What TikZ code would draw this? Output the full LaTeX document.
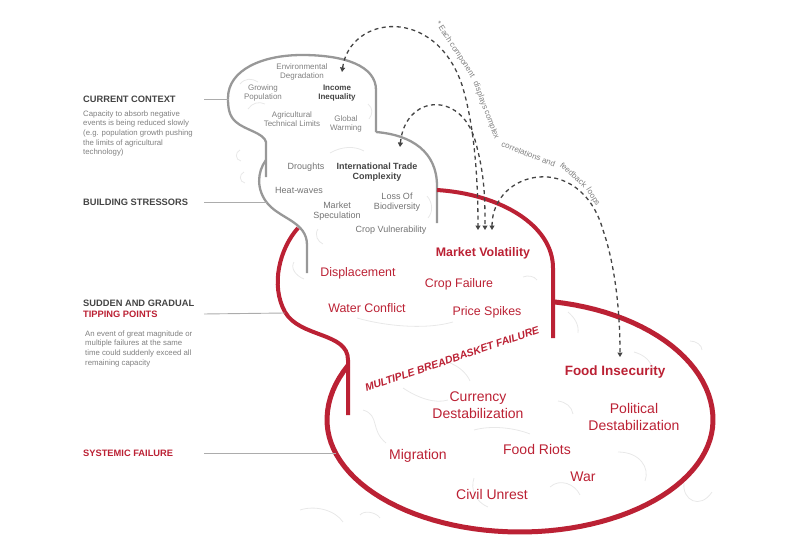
\documentclass[tikz,border=0pt]{standalone}
\usepackage{fontspec}
\setmainfont{Liberation Sans}
\usetikzlibrary{arrows.meta, positioning}

\definecolor{rim}{RGB}{152,152,152}
\definecolor{crimson}{RGB}{187,33,52}
\definecolor{ink}{RGB}{68,68,68}
\definecolor{soft}{RGB}{128,128,128}
\definecolor{faint}{RGB}{232,232,232}
\definecolor{guideline}{RGB}{172,172,172}

\begin{document}
\begin{tikzpicture}[x=1pt, y=-1pt,
          head/.style={font=\fontsize{9.3}{11}\selectfont\bfseries, text=ink, inner sep=0pt, anchor=west},
          desc/.style={font=\fontsize{7.8}{9.6}\selectfont, text=soft, align=left, inner sep=0pt},
          guide/.style={draw=guideline, line width=0.9pt},
          tiny/.style={font=\fontsize{8}{9.2}\selectfont, text=soft, align=center, inner sep=0pt},
          small/.style={font=\fontsize{9}{10.5}\selectfont, text=soft!90!black, align=center, inner sep=0pt},
          redlbl/.style={font=\fontsize{12.4}{14}\selectfont, text=crimson, align=center, inner sep=0pt},
          biglbl/.style={font=\fontsize{14}{16.5}\selectfont, text=crimson, align=center, inner sep=0pt},
          note/.style={font=\fontsize{8}{9}\selectfont, text=soft, inner sep=0pt},
          greyrim/.style={draw=rim, line width=2.3pt},
          redrim/.style={draw=crimson, line width=4pt},
          faintline/.style={draw=faint, line width=0.8pt},
          fb/.style={draw=ink, line width=1.3pt, dash pattern=on 4pt off 3.5pt,
                     {Triangle[length=4.5pt,width=5pt]}-{Triangle[length=4.5pt,width=5pt]}}]
          \useasboundingbox (0,0) rectangle (800,557);

          % background scribbles
          \path[faintline]
              (240,84) .. controls (245,78) and (252,78) .. (258,82)
              (248,109) .. controls (252,103) and (259,101) .. (265,104)
              (368,104) .. controls (373,108) and (373,114) .. (369,119)
              (330,153) .. controls (342,146) and (355,146) .. (364,151)
              (240,150) .. controls (235,152) and (235,160) .. (241,161)
              (244,172) .. controls (239,174) and (239,182) .. (245,183)
              (318,229) .. controls (314,235) and (318,242) .. (323,244)
              (427,196) .. controls (433,203) and (433,212) .. (428,218)
              (294,262) .. controls (290,268) and (296,276) .. (304,279)
              (357,318) .. controls (385,326) and (425,330) .. (453,322)
              (403,388) .. controls (418,398) and (435,404) .. (448,400)
              (448,362) .. controls (458,366) and (466,372) .. (470,381)
              (363,410) .. controls (380,415) and (370,430) .. (386,443)
              (474,430) .. controls (492,425) and (515,428) .. (530,434)
              (558,401) .. controls (566,402) and (572,407) .. (573,414)
              (618,452) .. controls (640,452) and (650,468) .. (645,481)
              (550,487) .. controls (560,478) and (575,484) .. (580,495)
              (474,478) .. controls (470,490) and (476,502) .. (488,507)
              (684,483) .. controls (682,500) and (700,510) .. (712,492)
              (300,510) .. controls (315,505) and (335,510) .. (343,522)
              (360,515) .. controls (364,510) and (376,512) .. (380,518)
              (568,312) .. controls (575,318) and (579,325) .. (578,333)
              (634,352) .. controls (645,355) and (652,362) .. (653,371)
              (690,341) .. controls (696,341) and (702,345) .. (702,350)
              (523,277) .. controls (528,275) and (534,276) .. (537,280);

          % stacked bubbles
          \draw[greyrim] (266,177) -- (266,142)
              .. controls (264,133) and (245,130) .. (236,122)
              .. controls (229,116) and (228,108) .. (228,98)
              .. controls (228,70) and (262,55) .. (302,55)
              .. controls (345,55) and (376,66) .. (376,90) -- (376,132);
          \draw[greyrim] (376,132) .. controls (412,135) and (437,152) .. (437,186) -- (437,223);
          \draw[greyrim] (266,160) .. controls (257,172) and (256,190) .. (268,204)
              .. controls (281,219) and (307,222) .. (307,245) -- (307,273);
          \draw[redrim] (298,228) .. controls (280,248) and (270,285) .. (285,312)
              .. controls (300,338) and (348,332) .. (348,360) -- (348,415);
          \draw[redrim] (437,190) .. controls (500,194) and (553,225) .. (553,268) -- (553,338);
          \draw[redrim, line width=5pt] plot[domain=80:-207, samples=90]
              ({520+193*cos(\x)}, {420-((sin(\x)>0) ? 120 : 112)*sin(\x)});

          % left column
          \node[head] (cc) at (83,99) {CURRENT CONTEXT};
          \node[desc, below=8pt of cc.south west, anchor=north west] (ccText)
              {Capacity to absorb negative\\events is being reduced slowly\\(e.g. population growth pushing\\the limits of agricultural\\technology)};
          \node[head] (bs) at (83,202) {BUILDING STRESSORS};
          \node[head] (sg) at (83,303) {SUDDEN AND GRADUAL};
          \node[head, text=crimson, below=4pt of sg.south west, anchor=north west] (tp) {TIPPING POINTS};
          \node[desc, below=13pt of tp.south west, anchor=north west, xshift=2pt] (tpText)
              {An event of great magnitude or\\multiple failures at the same\\time could suddenly exceed all\\remaining capacity};
          \node[head, text=crimson] (sf) at (83,453) {SYSTEMIC FAILURE};

          \coordinate (rail) at (204,0);
          \coordinate (ccEnd) at (229,99);
          \coordinate (bsEnd) at (267,202);
          \coordinate (tpEnd) at (285,313);
          \coordinate (sfEnd) at (336,453);
          \draw[guide] (cc -| rail) -- (ccEnd);
          \draw[guide] (bs -| rail) -- (bsEnd);
          \draw[guide] (tp -| rail) -- (tpEnd);
          \draw[guide] (sf -| rail) -- (sfEnd);

          % current context
          \node[tiny] (envDeg) at (302,72) {Environmental\\Degradation};
          \node[tiny] (growPop) at (263,93) {Growing\\Population};
          \node[tiny, text=ink, font=\fontsize{8}{9.2}\selectfont\bfseries] (incIneq) at (337,93) {Income\\Inequality};
          \node[tiny] (agriTech) at (292,119) {Agricultural\\Technical Limits};
          \node[tiny] (globWarm) at (346,124) {Global\\Warming};

          % building stressors
          \node[small] (drought) at (306,167) {Droughts};
          \node[small, text=ink, font=\fontsize{9}{10.5}\selectfont\bfseries] (intTrade) at (377,172) {International Trade\\Complexity};
          \node[small] (heatWave) at (299,190) {Heat-waves};
          \node[small] (mktSpec) at (337,211) {Market\\Speculation};
          \node[small] (lossBio) at (397,202) {Loss Of\\Biodiversity};
          \node[small] (cropVuln) at (391,230) {Crop Vulnerability};

          % tipping points
          \node[redlbl, font=\fontsize{12.4}{14}\selectfont\bfseries] (mktVol) at (483,253) {Market Volatility};
          \node[redlbl] (displace) at (358,273) {Displacement};
          \node[redlbl] (cropFail) at (459,284) {Crop Failure};
          \node[redlbl] (waterCon) at (367,308) {Water Conflict};
          \node[redlbl] (priceSpk) at (487,312) {Price Spikes};
          \node[redlbl, font=\fontsize{10.5}{12}\selectfont\bfseries\itshape, rotate=18.7] (mbf) at (452,359) {MULTIPLE BREADBASKET FAILURE};

          % systemic failure
          \node[biglbl, font=\fontsize{13.5}{16}\selectfont\bfseries] (foodInsec) at (615,372) {Food Insecurity};
          \node[biglbl] (currDest) at (478,405) {Currency\\Destabilization};
          \node[biglbl] (polDest) at (634,417) {Political\\Destabilization};
          \node[biglbl] (migration) at (418,456) {Migration};
          \node[biglbl] (foodRiot) at (537,449) {Food Riots};
          \node[biglbl] (war) at (583,477) {War};
          \node[biglbl] (civUnrest) at (492,494) {Civil Unrest};

          % feedback loops
          \coordinate (iiTip) at (342,72);
          \coordinate (itTip) at (400,147);
          \coordinate (fiTip) at (620,357);
          \coordinate (mv1) at (478,230);
          \coordinate (mv2) at (485,230);
          \coordinate (mv3) at (492,230);
          \draw[fb] (iiTip) .. controls (350,15) and (435,5) .. (462,85)
              .. controls (476,130) and (478,190) .. (mv1);
          \draw[fb] (itTip) .. controls (405,95) and (460,90) .. (475,140)
              .. controls (485,175) and (485,200) .. (mv2);
          \draw[fb] (mv3) .. controls (492,170) and (580,150) .. (603,230)
              .. controls (615,265) and (620,310) .. (fiTip);

          % note bent along the loops
          \node[note, rotate=-56.8] (noteA) at (455,49.5) {* Each component};
          \node[note, rotate=-69.5] (noteB) at (486,110.5) {displays complex};
          \node[note, rotate=-21] (noteC) at (528.5,154) {correlations and};
          \node[note, rotate=-41.6] (noteD) at (573.5,175) {feedback};
          \node[note, rotate=-58] (noteE) at (593,197) {loops};
\end{tikzpicture}
\end{document}
